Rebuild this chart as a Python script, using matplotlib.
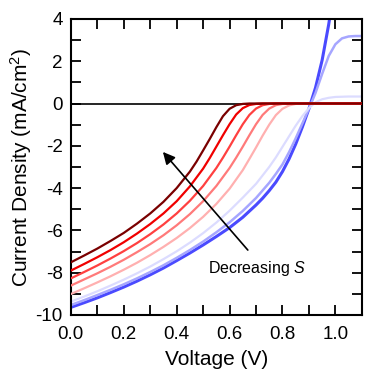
import numpy as np
import matplotlib
matplotlib.use('Agg')
import matplotlib.pyplot as plt
from matplotlib.ticker import MultipleLocator

plt.rcParams['font.family'] = ['Liberation Sans', 'DejaVu Sans']
plt.rcParams['mathtext.fontset'] = 'custom'
plt.rcParams['mathtext.rm'] = 'Liberation Sans'
plt.rcParams['mathtext.it'] = 'Liberation Sans:italic'
plt.rcParams['axes.unicode_minus'] = False

# J-V curves, ordered from darkest red to blue.
v_dark = [0.0, 0.05, 0.1, 0.15, 0.2, 0.25, 0.3, 0.35, 0.4, 0.45, 0.475, 0.5, 0.525,
          0.55, 0.575, 0.6, 0.625, 0.65, 0.675, 1.1]
j_dark = [-7.51, -7.19, -6.86, -6.50, -6.12, -5.68, -5.20, -4.65, -4.00, -3.22, -2.75, -2.22, -1.68,
          -1.12, -0.60, -0.25, -0.08, -0.02, 0.0, 0.0]

v_red = [0.0, 0.05, 0.1, 0.15, 0.2, 0.25, 0.3, 0.35, 0.4, 0.45, 0.5, 0.525, 0.55,
         0.575, 0.6, 0.625, 0.65, 0.675, 0.7, 0.725, 1.1]
j_red = [-7.90, -7.59, -7.27, -6.93, -6.56, -6.15, -5.70, -5.20, -4.62, -3.92, -3.08, -2.58, -2.04,
         -1.50, -0.98, -0.52, -0.22, -0.07, -0.02, 0.0, 0.0]

v_mid = [0.0, 0.05, 0.1, 0.15, 0.2, 0.25, 0.3, 0.35, 0.4, 0.45, 0.5, 0.55, 0.575,
         0.6, 0.625, 0.65, 0.675, 0.7, 0.725, 0.75, 0.775, 1.1]
j_mid = [-8.27, -7.97, -7.66, -7.33, -6.98, -6.60, -6.18, -5.72, -5.20, -4.60, -3.90, -3.05, -2.56,
         -2.04, -1.50, -0.98, -0.54, -0.24, -0.08, -0.02, 0.0, 0.0]

v_salmon = [0.0, 0.05, 0.1, 0.15, 0.2, 0.25, 0.3, 0.35, 0.4, 0.45, 0.5, 0.55, 0.6,
            0.625, 0.65, 0.675, 0.7, 0.725, 0.75, 0.775, 0.8, 0.825, 1.1]
j_salmon = [-8.61, -8.32, -8.03, -7.72, -7.39, -7.03, -6.65, -6.23, -5.76, -5.23, -4.62, -3.90, -3.05,
            -2.56, -2.04, -1.50, -0.98, -0.54, -0.24, -0.08, -0.02, 0.0, 0.0]

v_pink = [0.0, 0.05, 0.1, 0.15, 0.2, 0.25, 0.3, 0.35, 0.4, 0.45, 0.5, 0.55, 0.6, 0.65,
          0.675, 0.7, 0.725, 0.75, 0.775, 0.8, 0.825, 0.85, 0.875, 1.1]
j_pink = [-9.01, -8.74, -8.46, -8.17, -7.86, -7.53, -7.17, -6.78, -6.36, -5.89, -5.36, -4.75, -4.03, -3.15,
          -2.62, -2.08, -1.52, -1.00, -0.55, -0.25, -0.09, -0.02, 0.0, 0.0]

v_lav = [0.0, 0.05, 0.1, 0.15, 0.2, 0.25, 0.3, 0.35, 0.4, 0.45, 0.5, 0.55, 0.6, 0.65, 0.7,
         0.75, 0.775, 0.8, 0.825, 0.85, 0.875, 0.9, 0.925, 0.95, 0.975, 1.0, 1.05, 1.1]
j_lav = [-9.37, -9.13, -8.88, -8.61, -8.33, -8.03, -7.71, -7.36, -6.99, -6.58, -6.13, -5.63, -5.07, -4.45, -3.80,
         -3.00, -2.55, -2.05, -1.55, -1.05, -0.60, -0.22, 0.06, 0.20, 0.27, 0.31, 0.33, 0.33]

v_lblue = [0.0, 0.05, 0.1, 0.15, 0.2, 0.25, 0.3, 0.35, 0.4, 0.45, 0.5, 0.55, 0.6, 0.65, 0.7, 0.75,
           0.775, 0.8, 0.825, 0.85, 0.875, 0.9, 0.925, 0.95, 0.975, 1.0, 1.025, 1.05, 1.075, 1.1]
j_lblue = [-9.53, -9.30, -9.06, -8.81, -8.55, -8.27, -7.97, -7.65, -7.30, -6.93, -6.53, -6.09, -5.62, -5.08, -4.47, -3.75,
           -3.33, -2.88, -2.30, -1.65, -0.95, -0.25, 0.50, 1.40, 2.25, 2.80, 3.08, 3.17, 3.19, 3.19]

v_blue = [0.0, 0.05, 0.1, 0.15, 0.2, 0.25, 0.3, 0.35, 0.4, 0.45, 0.5, 0.55, 0.6, 0.65, 0.7,
          0.725, 0.75, 0.775, 0.8, 0.825, 0.85, 0.875, 0.9, 0.925, 0.95, 0.975, 1.0]
j_blue = [-9.64, -9.42, -9.19, -8.94, -8.68, -8.40, -8.10, -7.78, -7.43, -7.07, -6.69, -6.29, -5.87, -5.38, -4.80,
          -4.48, -4.12, -3.72, -3.22, -2.62, -1.92, -1.12, -0.25, 0.75, 2.05, 3.75, 5.8]

curves = [
    (v_dark, j_dark, '#7a0000', 1.6),
    (v_red, j_red, '#f00000', 1.6),
    (v_mid, j_mid, '#ff4040', 1.6),
    (v_salmon, j_salmon, '#ff7a7a', 1.6),
    (v_pink, j_pink, '#ffb0b0', 1.6),
    (v_lav, j_lav, '#dcdcff', 1.6),
    (v_lblue, j_lblue, '#a6a6ff', 1.8),
    (v_blue, j_blue, '#4a4aff', 2.2),
]

fig = plt.figure(figsize=(3.73, 3.86), dpi=100)
ax = fig.add_axes([0.190, 0.184, 0.780, 0.767])

ax.axhline(0, color='black', lw=1.2, zorder=1)
# blues first, then the reds from light to dark on top
for v, j, c, lw in curves[::-1][:3]:
    ax.plot(v, j, color=c, lw=lw, zorder=2, solid_joinstyle='round')
for v, j, c, lw in curves[4::-1]:
    ax.plot(v, j, color=c, lw=lw, zorder=3, solid_joinstyle='round')

ax.set_xlim(0, 1.1)
ax.set_ylim(-10, 4)
ax.xaxis.set_major_locator(MultipleLocator(0.2))
ax.xaxis.set_minor_locator(MultipleLocator(0.1))
ax.yaxis.set_major_locator(MultipleLocator(2))
ax.yaxis.set_minor_locator(MultipleLocator(1))
ax.xaxis.set_major_formatter(plt.FormatStrFormatter('%.1f'))
ax.tick_params(which='both', direction='in', top=True, right=True,
               length=7, width=1.3, labelsize=13.5)
ax.tick_params(axis='x', pad=8)
ax.tick_params(axis='y', pad=6)
for s in ax.spines.values():
    s.set_linewidth(1.5)

ax.set_xlabel('Voltage (V)', fontsize=15, labelpad=5)
ax.set_ylabel('Current Density (mA/cm$^{2}$)', fontsize=15, labelpad=1)

ax.annotate('', xy=(0.348, -2.29), xytext=(0.669, -6.93),
            arrowprops=dict(arrowstyle='-|>', mutation_scale=18, lw=1.2,
                            color='black', shrinkA=0, shrinkB=0))
ax.text(0.518, -8.0, 'Decreasing $\\mathit{S}$', fontsize=11.5, va='baseline')

fig.savefig('out.png', dpi=100)
